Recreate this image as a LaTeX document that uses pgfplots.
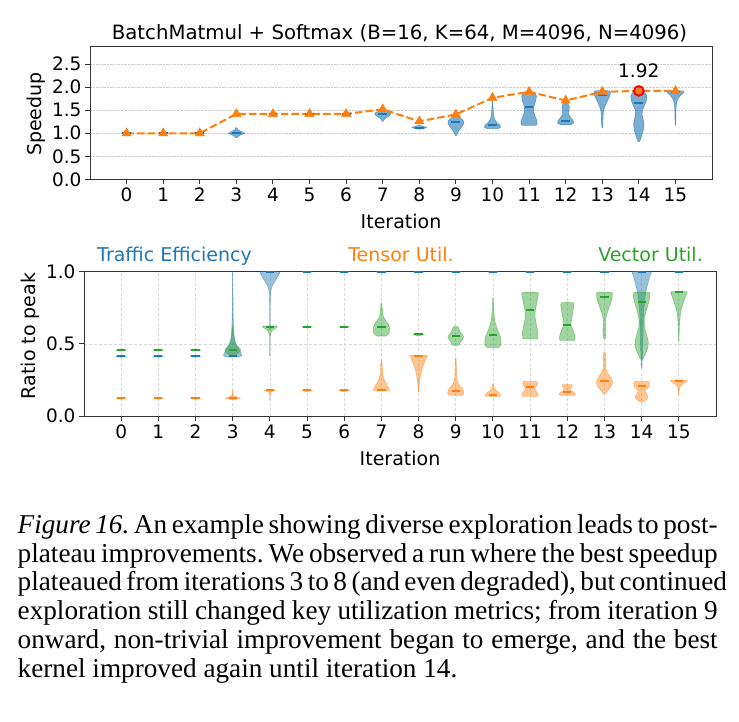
\documentclass[border=0pt]{standalone}
\usepackage{fontspec}
\usepackage{pgfplots}
\pgfplotsset{compat=1.18}
\newfontfamily\chartfont{DejaVu Sans}
\newfontfamily\capfont{Liberation Serif}
\definecolor{c0}{HTML}{1F77B4}
\definecolor{c1}{HTML}{FF7F0E}
\definecolor{c2}{HTML}{2CA02C}
% violin: #1 centre, #2 colour, #3 opacity, #4 list of y/halfwidth from bottom to top
\newcommand\violin[4]{%
  \gdef\vR{}\gdef\vL{}%
  \foreach \yy/\ww in {#4}{%
    \xdef\vR{\vR(\fpeval{#1+\ww},\yy)}%
    \xdef\vL{(\fpeval{#1-\ww},\yy)\vL}%
  }%
  \edef\vtmp{\noexpand\addplot[draw=#2,fill=#2,fill opacity=#3,draw opacity=#3,line width=0.6pt,smooth,tension=0.35,forget plot] coordinates {\vR\vL} -- cycle;}%
  \vtmp}
% lens: #1 centre, #2 y, #3 half height, #4 half width, #5 colour, #6 opacity
\newcommand\lens[6]{\violin{#1}{#5}{#6}{\fpeval{#2-#3}/0.01, #2/#4, \fpeval{#2+#3}/0.01}}
\newcommand\cf{\chartfont\fontsize{19}{22}\selectfont}
\begin{document}
\frenchspacing
\begin{tikzpicture}
\path[use as bounding box] (0pt,0pt) rectangle (739pt,-721pt);
% ---------------- top axis ----------------
\begin{axis}[
  at={(90pt,-179.3pt)}, anchor=south west,
  scale only axis, width=622pt, height=132.6pt,
  xmin=-1, xmax=16, ymin=0, ymax=2.88,
  xtick={0,...,15}, ytick={0,0.5,1,1.5,2,2.5},
  axis line style={black!80, line width=1pt},
  tick style={black!80, line width=1pt},
  major tick length=5pt, tick align=outside, tick pos=left,
  ymajorgrids, major grid style={densely dotted, gray!40, line width=0.8pt},
  tick label style={font=\chartfont\fontsize{18.5}{20}\selectfont},
  /pgf/number format/assume math mode=true,
  yticklabel style={/pgf/number format/fixed, /pgf/number format/fixed zerofill, /pgf/number format/precision=1},
]
\lens{0}{1.0}{0.015}{0.12}{c0}{0.6}
\lens{1}{1.0}{0.015}{0.12}{c0}{0.6}
\lens{2}{1.0}{0.015}{0.12}{c0}{0.6}
\lens{4}{1.42}{0.015}{0.12}{c0}{0.6}
\lens{5}{1.42}{0.015}{0.12}{c0}{0.6}
\lens{6}{1.42}{0.015}{0.12}{c0}{0.6}
\violin{3}{c0}{0.6}{0.9/0.01, 0.95/0.08, 1.0/0.22, 1.04/0.12, 1.08/0.04, 1.12/0.01}
\violin{7}{c0}{0.6}{1.26/0.01, 1.32/0.06, 1.38/0.18, 1.42/0.22, 1.46/0.17, 1.5/0.05, 1.52/0.01}
\violin{8}{c0}{0.6}{1.09/0.02, 1.11/0.15, 1.13/0.2, 1.15/0.1, 1.17/0.01}
\violin{9}{c0}{0.6}{0.95/0.01, 1.0/0.04, 1.08/0.1, 1.15/0.17, 1.22/0.22, 1.28/0.2, 1.33/0.12, 1.36/0.04}
\violin{10}{c0}{0.6}{1.1/0.14, 1.13/0.22, 1.18/0.2, 1.23/0.12, 1.3/0.06, 1.4/0.03, 1.55/0.015, 1.7/0.005}
\violin{11}{c0}{0.6}{1.17/0.2, 1.22/0.22, 1.3/0.2, 1.4/0.15, 1.5/0.12, 1.6/0.14, 1.7/0.18, 1.8/0.2, 1.86/0.18, 1.9/0.1}
\violin{12}{c0}{0.6}{1.19/0.15, 1.22/0.22, 1.28/0.2, 1.35/0.13, 1.42/0.08, 1.5/0.09, 1.58/0.1, 1.64/0.07, 1.7/0.02}
\violin{13}{c0}{0.6}{1.12/0.008, 1.2/0.015, 1.3/0.02, 1.4/0.025, 1.5/0.04, 1.6/0.08, 1.7/0.14, 1.8/0.2, 1.86/0.22, 1.92/0.2}
\violin{14}{c0}{0.6}{0.82/0.02, 0.9/0.06, 1.0/0.1, 1.1/0.13, 1.2/0.14, 1.3/0.12, 1.4/0.09, 1.5/0.1, 1.6/0.15, 1.7/0.2, 1.8/0.22, 1.87/0.18, 1.92/0.1}
\violin{15}{c0}{0.6}{1.18/0.005, 1.3/0.01, 1.5/0.015, 1.65/0.03, 1.75/0.07, 1.83/0.15, 1.88/0.22, 1.92/0.2}
\addplot[only marks, mark=-, mark size=4.4pt, c0, mark options={line width=2pt}] coordinates {
(0,1.0)(1,1.0)(2,1.0)(3,1.0)(4,1.42)(5,1.42)(6,1.42)(7,1.41)(8,1.12)(9,1.25)(10,1.17)(11,1.56)(12,1.275)(13,1.83)(14,1.65)(15,1.9)};
\addplot[c1, line width=2pt, dash pattern=on 7.4pt off 3.2pt, mark=triangle*, mark size=5.3pt, mark options={solid, fill=c1, line width=0.5pt}] coordinates {
(0,1.0)(1,1.0)(2,1.0)(3,1.42)(4,1.42)(5,1.42)(6,1.42)(7,1.52)(8,1.26)(9,1.41)(10,1.77)(11,1.90)(12,1.71)(13,1.90)(14,1.92)(15,1.92)};
\addplot[only marks, mark=o, mark size=4.8pt, red, mark options={line width=2pt}] coordinates {(14,1.92)};
\node[font=\chartfont\fontsize{18.5}{20}\selectfont, anchor=base, inner sep=0pt] at (axis cs:14,2.217) {1.92};
\end{axis}
% ---------------- bottom axis ----------------
\begin{axis}[
  at={(84pt,-416.2pt)}, anchor=south west,
  scale only axis, width=632pt, height=144.5pt,
  xmin=-1, xmax=16, ymin=0, ymax=1,
  xtick={0,...,15}, ytick={0,0.5,1},
  axis line style={black!80, line width=1pt},
  tick style={black!80, line width=1pt},
  major tick length=5pt, tick align=outside, tick pos=left,
  xmajorgrids, ymajorgrids, major grid style={dash pattern=on 3pt off 2pt, gray!30, line width=0.7pt},
  tick label style={font=\chartfont\fontsize{18.5}{20}\selectfont},
  /pgf/number format/assume math mode=true,
  yticklabel style={/pgf/number format/fixed, /pgf/number format/fixed zerofill, /pgf/number format/precision=1},
  clip marker paths=true,
]
% Traffic efficiency
\lens{0}{0.415}{0.007}{0.14}{c0}{0.45}
\lens{1}{0.415}{0.007}{0.14}{c0}{0.45}
\lens{2}{0.415}{0.007}{0.14}{c0}{0.45}
\violin{3}{c0}{0.45}{0.41/0.15, 0.42/0.25, 0.45/0.2, 0.48/0.12, 0.52/0.06, 0.58/0.03, 0.7/0.012, 0.85/0.006, 1.0/0.004}
\violin{4}{c0}{0.45}{0.6/0.004, 0.7/0.006, 0.8/0.01, 0.86/0.02, 0.9/0.06, 0.94/0.15, 0.97/0.22, 1.0/0.25}
\lens{5}{1.0}{0.007}{0.14}{c0}{0.45}
\lens{6}{1.0}{0.007}{0.14}{c0}{0.45}
\lens{7}{1.0}{0.007}{0.14}{c0}{0.45}
\lens{8}{1.0}{0.007}{0.14}{c0}{0.45}
\lens{9}{1.0}{0.007}{0.14}{c0}{0.45}
\lens{10}{1.0}{0.007}{0.14}{c0}{0.45}
\lens{11}{1.0}{0.007}{0.14}{c0}{0.45}
\lens{12}{1.0}{0.007}{0.14}{c0}{0.45}
\lens{13}{1.0}{0.007}{0.14}{c0}{0.45}
\violin{14}{c0}{0.45}{0.335/0.008, 0.42/0.02, 0.5/0.03, 0.6/0.04, 0.7/0.05, 0.8/0.08, 0.87/0.12, 0.93/0.18, 0.97/0.22, 1.0/0.24}
\lens{15}{1.0}{0.007}{0.14}{c0}{0.45}
\addplot[only marks, mark=-, mark size=4.1pt, c0, mark options={line width=2pt}] coordinates {
(0,0.415)(1,0.415)(2,0.415)(3,0.418)(4,1)(5,1)(6,1)(7,1)(8,1)(9,1)(10,1)(11,1)(12,1)(13,1)(14,1)(15,1)};
% Tensor util
\lens{0}{0.125}{0.007}{0.14}{c1}{0.45}
\lens{1}{0.125}{0.007}{0.14}{c1}{0.45}
\lens{2}{0.125}{0.007}{0.14}{c1}{0.45}
\violin{3}{c1}{0.45}{0.113/0.02, 0.12/0.15, 0.125/0.2, 0.13/0.15, 0.14/0.03, 0.16/0.008, 0.18/0.004}
\violin{4}{c1}{0.45}{0.11/0.004, 0.15/0.006, 0.17/0.04, 0.178/0.15, 0.185/0.02}
\lens{5}{0.178}{0.007}{0.14}{c1}{0.45}
\lens{6}{0.178}{0.007}{0.14}{c1}{0.45}
\violin{7}{c1}{0.45}{0.175/0.2, 0.18/0.22, 0.2/0.19, 0.23/0.12, 0.26/0.06, 0.3/0.03, 0.35/0.02, 0.39/0.008}
\violin{8}{c1}{0.45}{0.167/0.01, 0.22/0.02, 0.28/0.05, 0.33/0.1, 0.38/0.17, 0.41/0.22, 0.42/0.22}
\violin{9}{c1}{0.45}{0.145/0.18, 0.16/0.22, 0.19/0.18, 0.22/0.08, 0.26/0.03, 0.32/0.02, 0.4/0.008}
\violin{10}{c1}{0.45}{0.137/0.2, 0.15/0.2, 0.165/0.14, 0.18/0.07, 0.2/0.03, 0.222/0.01}
\violin{11}{c1}{0.45}{0.137/0.2, 0.15/0.22, 0.17/0.17, 0.19/0.13, 0.21/0.17, 0.225/0.2, 0.24/0.18}
\violin{12}{c1}{0.45}{0.144/0.18, 0.155/0.22, 0.17/0.15, 0.185/0.08, 0.2/0.11, 0.218/0.13}
\violin{13}{c1}{0.45}{0.155/0.02, 0.18/0.1, 0.21/0.19, 0.24/0.22, 0.27/0.16, 0.3/0.08, 0.33/0.04, 0.36/0.03, 0.4/0.04, 0.43/0.03, 0.445/0.01}
\violin{14}{c1}{0.45}{0.097/0.02, 0.11/0.1, 0.13/0.17, 0.15/0.14, 0.175/0.09, 0.2/0.18, 0.22/0.21, 0.24/0.18}
\violin{15}{c1}{0.45}{0.145/0.005, 0.17/0.01, 0.2/0.03, 0.22/0.09, 0.235/0.18, 0.245/0.22, 0.25/0.2}
\addplot[only marks, mark=-, mark size=4.1pt, c1, mark options={line width=2pt}] coordinates {
(0,0.125)(1,0.125)(2,0.125)(3,0.125)(4,0.178)(5,0.178)(6,0.178)(7,0.178)(8,0.418)(9,0.171)(10,0.148)(11,0.204)(12,0.165)(13,0.242)(14,0.211)(15,0.243)};
% Vector util
\lens{0}{0.458}{0.007}{0.14}{c2}{0.45}
\lens{1}{0.458}{0.007}{0.14}{c2}{0.45}
\lens{2}{0.458}{0.007}{0.14}{c2}{0.45}
\violin{3}{c2}{0.45}{0.42/0.05, 0.44/0.17, 0.46/0.21, 0.48/0.15, 0.5/0.08, 0.53/0.04, 0.57/0.02, 0.62/0.008}
\violin{4}{c2}{0.45}{0.42/0.004, 0.5/0.006, 0.56/0.01, 0.59/0.05, 0.61/0.15, 0.62/0.2, 0.625/0.16}
\lens{5}{0.618}{0.007}{0.14}{c2}{0.45}
\lens{6}{0.618}{0.007}{0.14}{c2}{0.45}
\violin{7}{c2}{0.45}{0.555/0.12, 0.57/0.2, 0.6/0.22, 0.63/0.2, 0.66/0.12, 0.69/0.05, 0.73/0.03, 0.78/0.01}
\lens{8}{0.565}{0.008}{0.15}{c2}{0.45}
\violin{9}{c2}{0.45}{0.49/0.08, 0.51/0.12, 0.53/0.18, 0.55/0.21, 0.57/0.16, 0.59/0.1, 0.61/0.08, 0.62/0.06}
\violin{10}{c2}{0.45}{0.475/0.15, 0.49/0.21, 0.52/0.22, 0.55/0.2, 0.6/0.12, 0.65/0.06, 0.7/0.03, 0.76/0.015, 0.82/0.005}
\violin{11}{c2}{0.45}{0.535/0.19, 0.57/0.21, 0.62/0.18, 0.67/0.14, 0.71/0.13, 0.76/0.16, 0.81/0.2, 0.84/0.22, 0.857/0.2}
\violin{12}{c2}{0.45}{0.525/0.2, 0.55/0.21, 0.59/0.16, 0.63/0.1, 0.67/0.11, 0.72/0.15, 0.76/0.17, 0.785/0.16}
\violin{13}{c2}{0.45}{0.535/0.02, 0.56/0.035, 0.6/0.04, 0.64/0.03, 0.68/0.04, 0.72/0.08, 0.77/0.15, 0.81/0.2, 0.84/0.21, 0.857/0.19}
\violin{14}{c2}{0.45}{0.395/0.03, 0.43/0.1, 0.47/0.16, 0.51/0.18, 0.56/0.14, 0.61/0.08, 0.66/0.07, 0.71/0.1, 0.76/0.16, 0.81/0.21, 0.84/0.22, 0.857/0.2}
\violin{15}{c2}{0.45}{0.514/0.005, 0.58/0.01, 0.65/0.02, 0.72/0.05, 0.77/0.1, 0.82/0.17, 0.85/0.21, 0.862/0.2}
\addplot[only marks, mark=-, mark size=4.1pt, c2, mark options={line width=2pt}] coordinates {
(0,0.458)(1,0.458)(2,0.458)(3,0.458)(4,0.618)(5,0.618)(6,0.618)(7,0.62)(8,0.566)(9,0.553)(10,0.56)(11,0.738)(12,0.634)(13,0.823)(14,0.787)(15,0.861)};
\end{axis}
% ---------------- labels ----------------
\node[font=\chartfont\fontsize{19.7}{22}\selectfont, anchor=base, inner sep=0pt] at (399.5pt,-39.3pt) {BatchMatmul + Softmax (B=16, K=64, M=4096, N=4096)};
\node[font=\cf, anchor=base, inner sep=0pt] at (401pt,-228.3pt) {Iteration};
\node[font=\cf, anchor=base, inner sep=0pt, rotate=90] at (41pt,-114pt) {Speedup};
\node[font=\cf, anchor=base, inner sep=0pt, rotate=90] at (35pt,-336pt) {Ratio to peak};
\node[font=\cf, anchor=base, inner sep=0pt] at (400pt,-465pt) {Iteration};
\node[font=\cf, text=c0, anchor=base west, inner sep=0pt] at (97pt,-261.5pt) {Traffic Efficiency};
\node[font=\cf, text=c1, anchor=base, inner sep=0pt] at (401pt,-261.5pt) {Tensor Util.};
\node[font=\cf, text=c2, anchor=base east, inner sep=0pt] at (703pt,-261.5pt) {Vector Util.};
% ---------------- caption ----------------
\begin{scope}[every node/.style={anchor=base west, inner sep=0pt, font=\capfont\fontsize{27.2}{28.75}\selectfont}]
\node at (17.5pt,-533.3pt) {\hbox to 700pt{\textit{Figure 16.} An example showing diverse exploration leads to post-}};
\node at (17.5pt,-562.05pt) {\hbox to 700pt{plateau improvements. We observed a run where the best speedup}};
\node at (17.5pt,-590.8pt) {\hbox to 700pt{plateaued from iterations 3 to 8 (and even degraded), but continued}};
\node at (17.5pt,-619.55pt) {\hbox to 700pt{exploration still changed key utilization metrics; from iteration 9}};
\node at (17.5pt,-648.3pt) {\hbox to 700pt{onward, non-trivial improvement began to emerge, and the best}};
\node at (17.5pt,-677.05pt) {\hbox{kernel improved again until iteration 14.}};
\end{scope}
\end{tikzpicture}
\end{document}
